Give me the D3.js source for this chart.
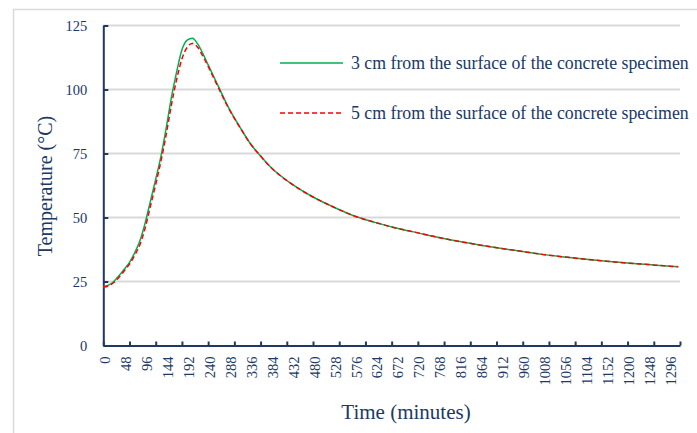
<html>
<head>
<meta charset="utf-8">
<title>Temperature vs time</title>
<style>
    body { margin: 0; background: #fff; }
    text { font-family: "Liberation Serif", "Times New Roman", serif; fill: #203864; }
</style>
</head>
<body>
<script src="https://cdn.jsdelivr.net/npm/d3@7"></script>
<script>
    var width = 697;
    var height = 433;
    var serif = "'Liberation Serif', 'Times New Roman', serif";

    // minutes
    var times = [0, 12, 24, 36, 48, 60, 72, 84, 96, 108, 120, 132, 144, 156, 168, 180, 192, 204, 216, 228,
        240, 264, 288, 312, 336, 360, 384, 432, 480, 528, 576, 624, 672, 720, 768, 816, 864, 912, 960,
        1008, 1056, 1104, 1152, 1200, 1248, 1296, 1316];

    // 3 cm from the surface
    var temp3cm = [23.0, 23.6, 25.0, 27.3, 29.8, 32.5, 36.3, 41.0, 48.0, 56.5, 65.0, 74.0, 85.0, 97.0, 107.0,
        115.5, 119.3, 120.0, 117.8, 114.0, 109.6, 101.0, 92.5, 85.5, 79.0, 74.0, 69.5, 63.0, 58.0, 54.0,
        50.5, 48.0, 45.8, 44.0, 42.2, 40.6, 39.2, 37.9, 36.7, 35.5, 34.6, 33.7, 32.9, 32.2, 31.6, 31.0, 30.8];

    // 5 cm from the surface
    var temp5cm = [22.8, 23.3, 24.6, 26.7, 29.2, 31.8, 35.3, 39.5, 46.0, 54.5, 63.0, 72.0, 82.5, 94.0, 104.0,
        112.0, 116.5, 118.0, 116.5, 113.0, 109.0, 100.5, 92.3, 85.4, 79.0, 74.0, 69.5, 63.0, 58.0, 54.0,
        50.5, 48.0, 45.8, 44.0, 42.2, 40.6, 39.2, 37.9, 36.7, 35.5, 34.6, 33.7, 32.9, 32.2, 31.6, 31.0, 30.8];

    var seriesNames = ["3 cm from the surface of the concrete specimen",
        "5 cm from the surface of the concrete specimen"];

    var yTicks = [0, 25, 50, 75, 100, 125];
    var xLabels = [0, 48, 96, 144, 192, 240, 288, 336, 384, 432, 480, 528, 576, 624, 672, 720, 768, 816,
        864, 912, 960, 1008, 1056, 1104, 1152, 1200, 1248, 1296];
    var xTickMarks = [0, 60, 120, 180, 240, 300, 360, 420, 480, 540, 600, 660, 720, 780, 840, 900, 960,
        1020, 1080, 1140, 1200, 1260, 1320];

    var navy = "#203864";
    var grid = "#d9d9d9";

    var svg = d3.select("body").append("svg")
            .attr("width", width)
            .attr("height", height);

    // outer chart frame (right and bottom edges fall outside the picture)
    svg.append("rect")
            .attr("x", 13.5).attr("y", 9.5)
            .attr("width", 720).attr("height", 450)
            .attr("fill", "none")
            .attr("stroke", grid)
            .attr("stroke-width", 1.5);

    var x = d3.scaleLinear().domain([0, 1320]).range([103.3, 680]);
    var y = d3.scaleLinear().domain([0, 125]).range([345.5, 25.5]);

    // horizontal gridlines
    svg.append("g").selectAll("line")
            .data(yTicks.filter(function (d) { return d > 0; }))
            .enter()
            .append("line")
            .attr("x1", x(0)).attr("x2", x(1320))
            .attr("y1", function (d) { return y(d); })
            .attr("y2", function (d) { return y(d); })
            .attr("stroke", grid)
            .attr("stroke-width", 2);

    // y axis
    var yAxis = svg.append("g")
            .attr("transform", "translate(" + x(0) + ",0)")
            .call(d3.axisLeft(y).tickValues(yTicks).tickSizeInner(-5).tickSizeOuter(0).tickPadding(16))
            .attr("font-family", serif)
            .attr("font-size", 14.5);
    yAxis.select(".domain").attr("stroke", navy).attr("stroke-width", 2);
    yAxis.selectAll(".tick line").attr("stroke", navy).attr("stroke-width", 2);
    yAxis.selectAll(".tick text").attr("fill", navy);

    // x axis: tick marks
    var xAxis = svg.append("g")
            .attr("transform", "translate(0," + y(0) + ")")
            .call(d3.axisBottom(x).tickValues(xTickMarks).tickSizeInner(-4).tickSizeOuter(0).tickFormat(""));
    xAxis.select(".domain").attr("stroke", navy).attr("stroke-width", 2);
    xAxis.selectAll(".tick line").attr("stroke", navy).attr("stroke-width", 2);

    // x axis: labels (rotated)
    var xLab = svg.append("g")
            .attr("transform", "translate(0," + y(0) + ")")
            .call(d3.axisBottom(x).tickValues(xLabels).tickSize(0).tickFormat(d3.format("d")))
            .attr("font-family", serif)
            .attr("font-size", 14.5);
    xLab.select(".domain").remove();
    xLab.selectAll(".tick text")
            .attr("fill", navy)
            .attr("transform", "rotate(-90)")
            .attr("text-anchor", "end")
            .attr("x", -11)
            .attr("y", 1)
            .attr("dy", "0.35em");

    // lines
    var line = function (vals) {
        return d3.line()
                .x(function (d, i) { return x(times[i]); })
                .y(function (d) { return y(d); })
                .curve(d3.curveMonotoneX)(vals);
    };

    svg.append("path")
            .attr("d", line(temp3cm))
            .attr("fill", "none")
            .attr("stroke", "#00b050")
            .attr("stroke-width", 1.5);

    svg.append("path")
            .attr("d", line(temp5cm))
            .attr("fill", "none")
            .attr("stroke", "#ff0000")
            .attr("stroke-width", 1.5)
            .attr("stroke-dasharray", "5,3");

    // legend
    var legend = svg.append("g");
    var legY = [63, 113];
    var legColor = ["#00b050", "#ff0000"];
    var legDash = [null, "5,3"];
    seriesNames.forEach(function (name, i) {
        legend.append("line")
                .attr("x1", 280).attr("x2", 343)
                .attr("y1", legY[i]).attr("y2", legY[i])
                .attr("stroke", legColor[i])
                .attr("stroke-width", 1.5)
                .attr("stroke-dasharray", legDash[i]);
        legend.append("text")
                .attr("x", 351).attr("y", legY[i])
                .attr("dy", "0.35em")
                .style("font-size", "17.8px")
                .text(name);
    });

    // axis titles
    svg.append("text")
            .attr("transform", "translate(45,186) rotate(-90)")
            .attr("text-anchor", "middle")
            .attr("dy", "0.35em")
            .style("font-size", "20px")
            .text("Temperature (°C)");

    svg.append("text")
            .attr("x", 406).attr("y", 419)
            .attr("text-anchor", "middle")
            .style("font-size", "21px")
            .text("Time (minutes)");
</script>
</body>
</html>
